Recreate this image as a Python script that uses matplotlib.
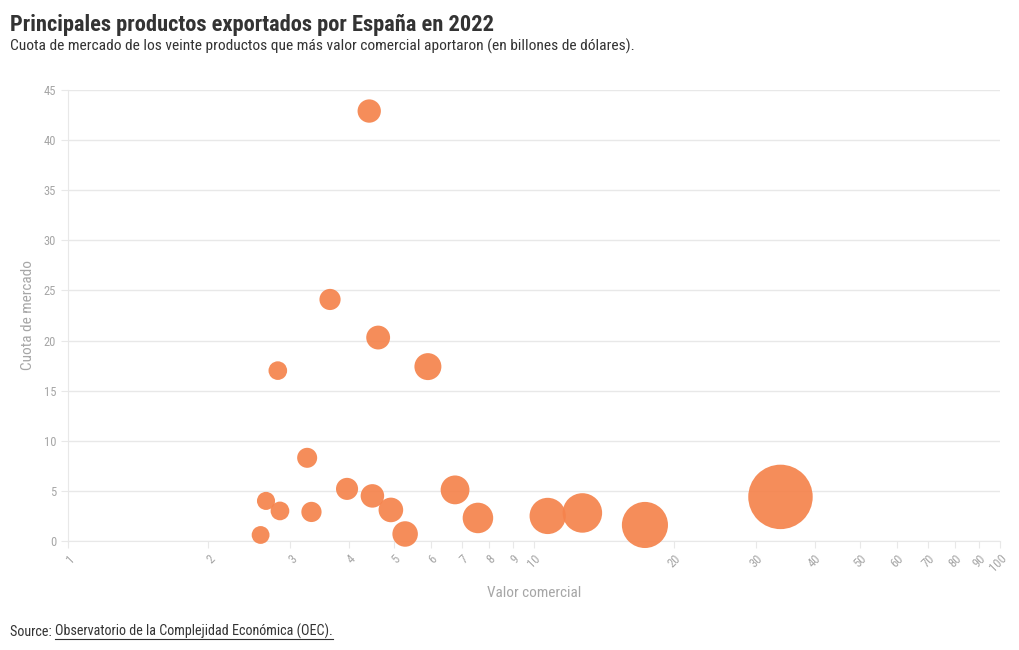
import matplotlib.pyplot as plt
from matplotlib.lines import Line2D
import matplotlib.font_manager as fm

# valor comercial (billones USD) y cuota de mercado (%)
valor = [4.43, 3.65, 4.63, 2.82, 5.92, 3.26, 2.66, 2.85, 2.59, 3.33,
         3.97, 4.50, 4.93, 5.29, 6.77, 7.58, 10.7, 12.7, 17.3, 33.8]
cuota = [42.9, 24.1, 20.3, 17.0, 17.4, 8.3, 4.0, 3.0, 0.6, 2.9,
         5.2, 4.5, 3.1, 0.7, 5.1, 2.3, 2.5, 2.8, 1.6, 4.4]

xticks = [1, 2, 3, 4, 5, 6, 7, 8, 9, 10, 20, 30, 40, 50, 60, 70, 80, 90, 100]
yticks = [0, 5, 10, 15, 20, 25, 30, 35, 40, 45]

names = {f.name for f in fm.fontManager.ttflist}
fam = 'Roboto Condensed' if 'Roboto Condensed' in names else 'Roboto'
plt.rcParams['font.family'] = [fam, 'DejaVu Sans']

fig = plt.figure(figsize=(10.2, 6.5), dpi=100)
ax = fig.add_axes([68/1020, 109/650, 932/1020, 451/650])

sizes = [v * 63.7 for v in valor]
ax.scatter(valor, cuota, s=sizes, color='#f5834c', alpha=0.92,
           edgecolors='none', zorder=3, clip_on=False)

ax.set_xscale('log')
ax.set_xlim(1, 100)
ax.set_ylim(0, 45)
ax.set_xticks(xticks)
ax.set_xticklabels([str(t) for t in xticks], rotation=45, ha='right',
                   rotation_mode='anchor')
ax.xaxis.set_minor_locator(plt.NullLocator())
ax.set_yticks(yticks)

grid_c = '#e8e8e8'
ax.grid(axis='y', color=grid_c, linewidth=1, zorder=0)
for s in ['top', 'right']:
    ax.spines[s].set_visible(False)
for s in ['left', 'bottom']:
    ax.spines[s].set_color(grid_c)
ax.tick_params(axis='both', colors=grid_c, labelcolor='#a6a6a6',
               labelsize=9, length=5)
ax.tick_params(axis='x', pad=3)

ax.set_xlabel('Valor comercial', color='#a6a6a6', fontsize=11, labelpad=8)
ax.set_ylabel('Cuota de mercado', color='#a6a6a6', fontsize=11, labelpad=6)

fig.text(10/1020, 1 - 31/650, 'Principales productos exportados por España en 2022',
         fontsize=16.2, fontweight='bold', color='#333333')
fig.text(10/1020, 1 - 51/650,
         'Cuota de mercado de los veinte productos que más valor comercial aportaron (en billones de dólares).',
         fontsize=11.15, color='#333333')

src = fig.text(10/1020, 1 - 636/650, 'Source: ', fontsize=10.2, color='#333333')
fig.canvas.draw()
r = fig.canvas.get_renderer()
bb = src.get_window_extent(r)
link = fig.text(bb.x1 / 1020, 1 - 636/650,
                'Observatorio de la Complejidad Económica (OEC).',
                fontsize=10.2, color='#333333')
fig.canvas.draw()
lb = link.get_window_extent(r)
uy = (650 - 638.5) / 650
fig.add_artist(Line2D([lb.x0 / 1020, lb.x1 / 1020], [uy, uy],
                      transform=fig.transFigure, color='#333333', linewidth=0.8))

fig.savefig('out.png', dpi=100)
